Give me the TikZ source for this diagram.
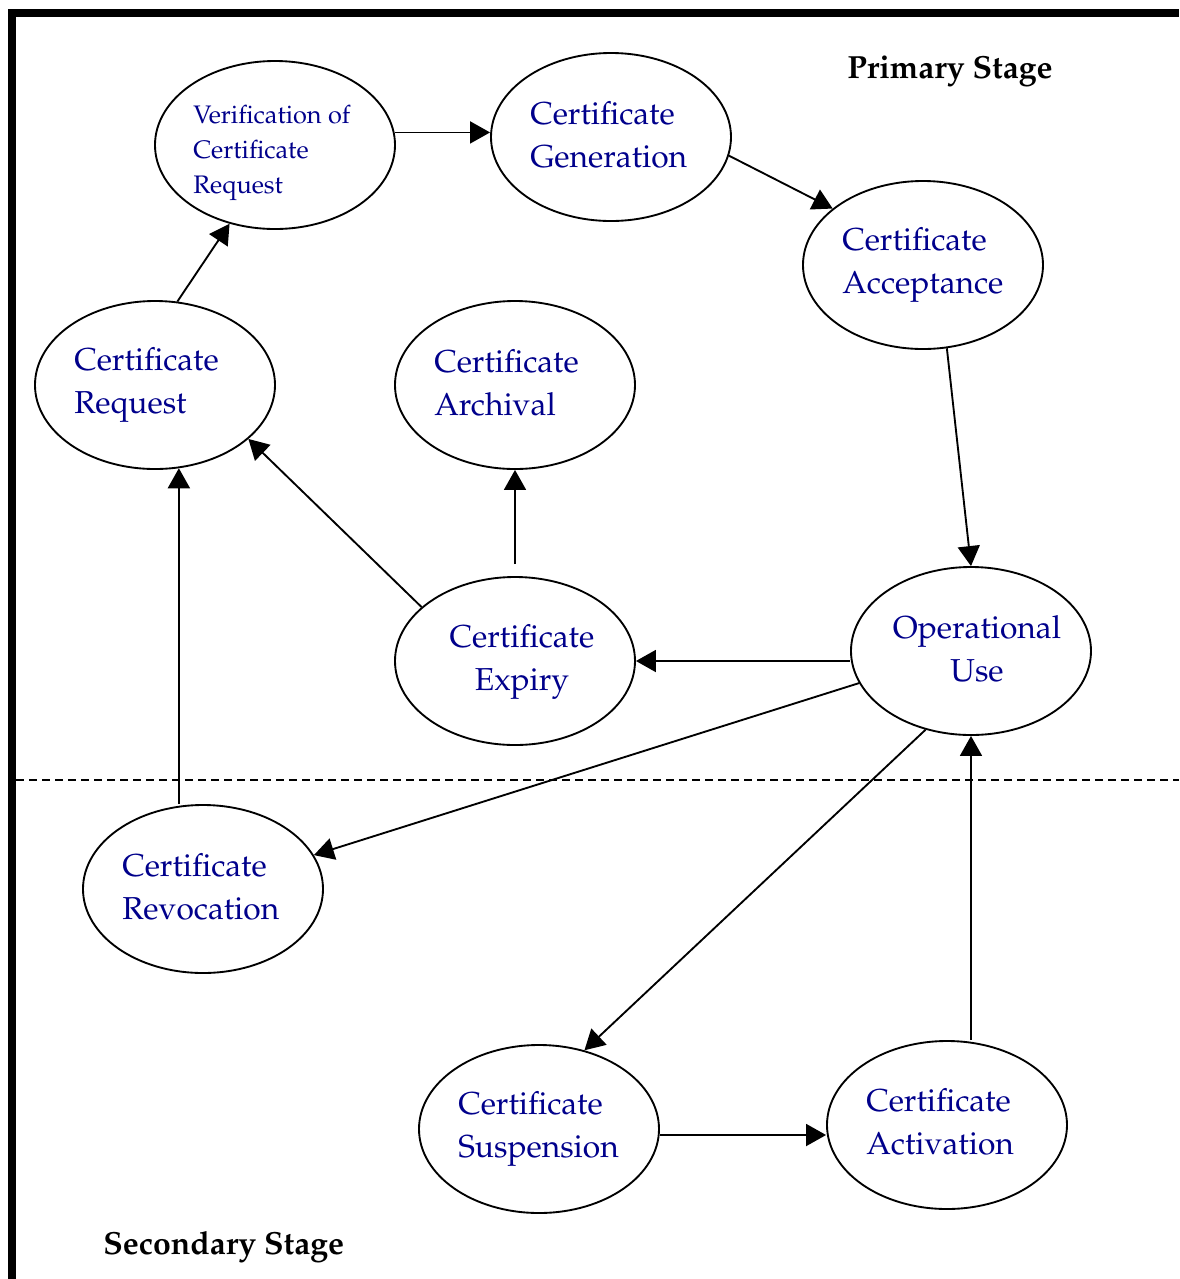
\documentclass[tikz,border=0pt]{standalone}
\usepackage[T1]{fontenc}
\usepackage{mathpazo}
\usetikzlibrary{shapes.geometric,arrows.meta}
\definecolor{txtblue}{RGB}{0,0,139}
\tikzset{
 stagebox/.style={ellipse,draw,line width=1.4pt,minimum width=180pt,minimum height=126pt,inner sep=0pt},
 txt/.style={text=txtblue,font=\fontsize{23.8}{32.25}\selectfont,inner sep=0pt,align=left,anchor=west},
 smalltxt/.style={txt,font=\fontsize{19}{26.25}\selectfont},
 ctxt/.style={txt,align=center,anchor=center},
 flow/.style={line width=1.4pt,-{Triangle[length=15pt,width=16.5pt]}},
 lbl/.style={font=\fontsize{24}{28}\selectfont\bfseries,inner sep=0pt,anchor=west},
 divider/.style={line width=1.2pt,dash pattern=on 6pt off 3.75pt}
}
\begin{document}
\begin{tikzpicture}[x=0.75pt,y=-0.75pt]
\useasboundingbox (0,0) rectangle (1179,1279);
% frame
\fill (8,9) rectangle (1179,17);
\fill (8,9) rectangle (16,1279);
\draw[divider] (16,780) -- (1179,780);
% ellipses
\node[stagebox] (ver) at (275,145) {};
\node[stagebox] (gen) at (611,137) {};
\node[stagebox] (acc) at (923,265) {};
\node[stagebox] (req) at (155,385) {};
\node[stagebox] (arch) at (515,385) {};
\node[stagebox] (exp) at (515,661) {};
\node[stagebox] (op) at (971,651) {};
\node[stagebox] (rev) at (203,889) {};
\node[stagebox] (susp) at (539,1129) {};
\node[stagebox] (act) at (947,1125) {};
% texts
\node[smalltxt] (ver-t) at (193,153) {Verification of\\Certificate\\Request};
\node[txt] (gen-t) at (530,135) {Certificate\\Generation};
\node[txt] (acc-t) at (842,265) {Certificate\\Acceptance};
\node[txt] (req-t) at (74,384.5) {Certificate\\Request};
\node[txt] (arch-t) at (434,383) {Certificate\\Archival};
\node[ctxt] (exp-t) at (522,661.5) {Certificate\\Expiry};
\node[ctxt] (op-t) at (977,648.5) {Operational\\Use};
\node[txt] (rev-t) at (122,886.5) {Certificate\\Revocation};
\node[txt] (susp-t) at (458,1129) {Certificate\\Suspension};
\node[txt] (act-t) at (866,1122) {Certificate\\Activation};
% stage labels
\node[lbl] (primary) at (847,71) {Primary Stage};
\node[lbl] (secondary) at (103,1247) {Secondary Stage};
% connectors
\draw[flow] (req.75) -- (ver.240);
\draw[flow] (ver.6) -- (ver.6 -| gen.west);
\draw[flow] (gen.351) -- (acc.148);
\draw[flow] (acc.286) -- (op.north);
\draw[flow] (op.west |- exp.east) -- (exp.east);
\draw[flow] (exp.150) -- (req.330);
\draw[flow,shorten <=9pt] (exp.north) -- (arch.south);
\draw[flow] (op.196) -- (rev.17);
\draw[flow] (op.240) -- (susp.60);
\draw[flow] ([yshift=-4.5pt]susp.east) -- ([yshift=-4.5pt]susp.east -| act.west);
\draw[flow] (op.south |- act.north) -- (op.south);
\draw[flow] (req.286 |- rev.north) -- (req.286);
\end{tikzpicture}
\end{document}
